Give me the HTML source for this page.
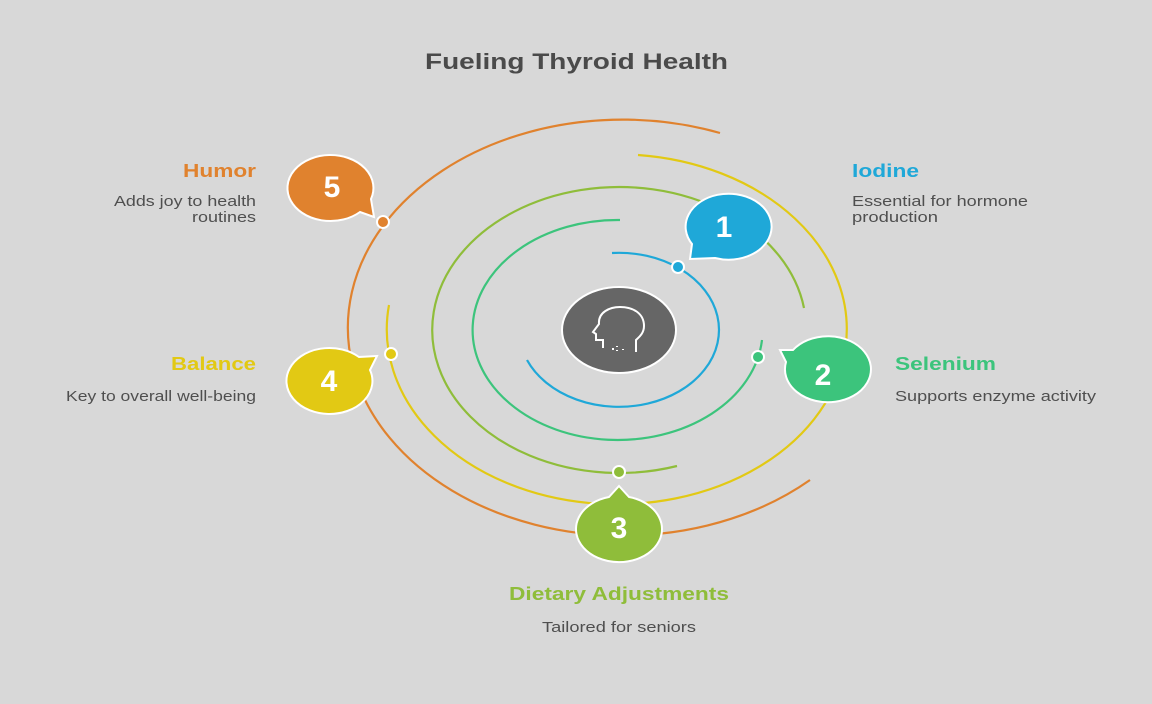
<!DOCTYPE html>
<html><head><meta charset="utf-8"><style>
html,body{margin:0;padding:0;background:#d8d8d8;}
svg{display:block;}
text{font-family:"Liberation Sans",sans-serif;}
</style></head><body>
<svg width="1152" height="704" viewBox="0 0 1152 704" xmlns="http://www.w3.org/2000/svg">
<rect width="1152" height="704" fill="#d8d8d8"/>
<text x="425" y="69" font-size="22" font-weight="bold" fill="#4a4a4a" textLength="303" lengthAdjust="spacingAndGlyphs">Fueling Thyroid Health</text>
<g fill="none" stroke-width="2.2">
<path d="M612 253 A100 77 0 1 1 527 360" stroke="#1fa8d8"/>
<path d="M620 220 A145 110 0 1 0 762 340" stroke="#3cc47c"/>
<path d="M804 308 A187 143 0 1 0 677 466" stroke="#8fbd3a"/>
<path d="M638 155 A230 175 0 1 1 389 305" stroke="#e2c914"/>
<path d="M720 133 A275 208 0 1 0 810 480" stroke="#e0822e"/>
</g>
<ellipse cx="619" cy="330" rx="57" ry="43" fill="#666" stroke="#fff" stroke-width="2"/>
<g fill="none" stroke="#fff" stroke-width="2">
<path d="M603 348 L603 340 L596 340 L596 334 L593 332 L599 324 C598 312 610 307 620 307 C634 307 644 314 644 326 C644 334 638 338 636 340 L636 352"/>
<path d="M613 348 v2 M617 346 v1 M617 350 v1 M623 349 v1"/>
</g>
<g stroke="#fff" stroke-width="2">
<circle cx="678" cy="267" r="6" fill="#1fa8d8"/>
<circle cx="758" cy="357" r="6" fill="#3cc47c"/>
<circle cx="619" cy="472" r="6" fill="#8fbd3a"/>
<circle cx="391" cy="354" r="6" fill="#e2c914"/>
<circle cx="383" cy="222" r="6" fill="#e0822e"/>
</g>
<g stroke="#fff" stroke-width="2">
<path d="M690 259 L692 244 A43 33 0 1 1 715 258 Z" fill="#1fa8d8"/>
<path d="M780 350 L793 350 A43 33 0 1 1 786 362 Z" fill="#3cc47c"/>
<path d="M619 486 L629 497 A43 33 0 1 1 609 497 Z" fill="#8fbd3a"/>
<path d="M377 356 L370 370 A43 33 0 1 1 359 357 Z" fill="#e2c914"/>
<path d="M374 217 L360 212 A43 33 0 1 1 371 199 Z" fill="#e0822e"/>
</g>
<g fill="#fff" font-size="30" font-weight="bold" text-anchor="middle">
<text x="724" y="237">1</text>
<text x="823" y="385">2</text>
<text x="619" y="538">3</text>
<text x="329" y="391">4</text>
<text x="332" y="197">5</text>
</g>
<g font-size="18" font-weight="bold">
<text x="852" y="177" fill="#1fa8d8" textLength="67" lengthAdjust="spacingAndGlyphs">Iodine</text>
<text x="895" y="370" fill="#3cc47c" textLength="101" lengthAdjust="spacingAndGlyphs">Selenium</text>
<text x="509" y="600" fill="#8fbd3a" textLength="220" lengthAdjust="spacingAndGlyphs">Dietary Adjustments</text>
<text x="171" y="370" fill="#e2c914" textLength="85" lengthAdjust="spacingAndGlyphs">Balance</text>
<text x="183" y="177" fill="#e0822e" textLength="73" lengthAdjust="spacingAndGlyphs">Humor</text>
</g>
<g font-size="15" fill="#4f4f4f">
<text x="852" y="206" textLength="176" lengthAdjust="spacingAndGlyphs">Essential for hormone</text>
<text x="852" y="222" textLength="86" lengthAdjust="spacingAndGlyphs">production</text>
<text x="895" y="401" textLength="201" lengthAdjust="spacingAndGlyphs">Supports enzyme activity</text>
<text x="542" y="632" textLength="154" lengthAdjust="spacingAndGlyphs">Tailored for seniors</text>
<text x="66" y="401" textLength="190" lengthAdjust="spacingAndGlyphs">Key to overall well-being</text>
<text x="114" y="206" textLength="142" lengthAdjust="spacingAndGlyphs">Adds joy to health</text>
<text x="192" y="222" textLength="64" lengthAdjust="spacingAndGlyphs">routines</text>
</g>
</svg>
</body></html>
